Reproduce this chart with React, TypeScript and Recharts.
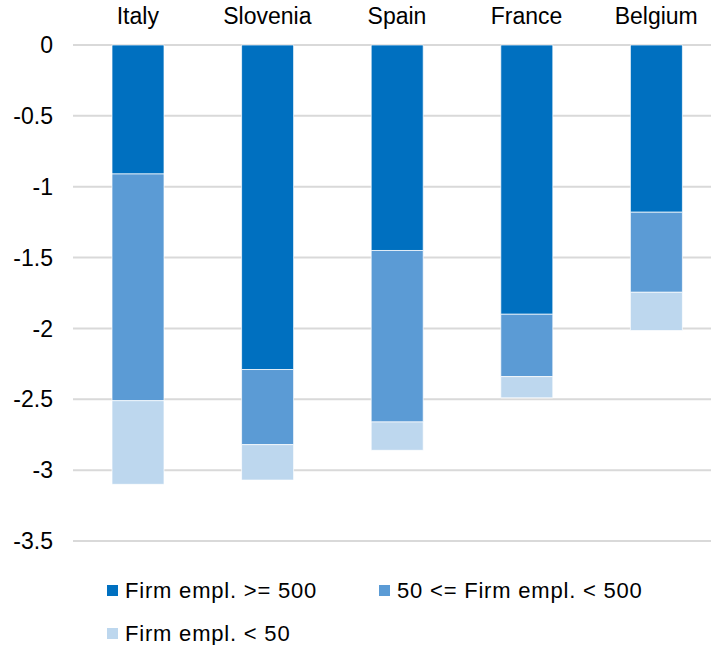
import React from "react";
import { BarChart, Bar, XAxis, YAxis, CartesianGrid, Legend } from "recharts";

const countries = ["Italy", "Slovenia", "Spain", "France", "Belgium"];
const large = [-0.91, -2.29, -1.45, -1.9, -1.18];
const medium = [-1.6, -0.53, -1.21, -0.44, -0.565];
const small = [-0.59, -0.25, -0.2, -0.15, -0.27];
const yTicks = [0, -0.5, -1, -1.5, -2, -2.5, -3, -3.5];

const series = [
  { key: "large", name: "Firm empl. >= 500", color: "#0070C0" },
  { key: "medium", name: "50 <= Firm empl. < 500", color: "#5B9BD5" },
  { key: "small", name: "Firm empl. < 50", color: "#BDD7EE" },
];

const rows = countries.map((country, i) => ({
  country,
  large: large[i],
  medium: medium[i],
  small: small[i],
}));

const FONT = "'Liberation Sans', Arial, sans-serif";

function LegendBox() {
  return (
    <div
      style={{
        width: 711,
        height: 104,
        boxSizing: "border-box",
        paddingTop: 28,
        paddingLeft: 107,
        display: "flex",
        flexWrap: "wrap",
        fontFamily: FONT,
        fontSize: 22,
        letterSpacing: 0.8,
        color: "#000",
      }}
    >
      {series.map((s) => (
        <div
          key={s.key}
          style={{ width: 272, height: 43, display: "flex", alignItems: "center" }}
        >
          <span
            style={{
              display: "inline-block",
              width: 11,
              height: 11,
              background: s.color,
              marginRight: 7,
            }}
          />
          <span>{s.name}</span>
        </div>
      ))}
    </div>
  );
}

export default function App() {
  return (
    <div
      style={{
        position: "absolute",
        left: 0,
        top: 0,
        width: 711,
        height: 645,
        overflow: "hidden",
        background: "#fff",
      }}
    >
      <BarChart
        width={721}
        height={645}
        data={rows}
        stackOffset="sign"
        margin={{ top: 0, right: 0, bottom: 0, left: 0 }}
      >
        <CartesianGrid vertical={false} stroke="#d9d9d9" strokeWidth={2} />
        <XAxis
          dataKey="country"
          orientation="top"
          height={45}
          axisLine={false}
          tickLine={false}
          tickSize={0}
          tickMargin={21}
          tick={{ fill: "#000", fontSize: 23, fontFamily: FONT }}
        />
        <YAxis
          type="number"
          domain={[-3.5, 0]}
          ticks={yTicks}
          width={73}
          axisLine={false}
          tickLine={false}
          tickSize={0}
          tickMargin={20}
          interval={0}
          tick={{ fill: "#000", fontSize: 23, fontFamily: FONT }}
        />
        <Legend
          verticalAlign="bottom"
          wrapperStyle={{ left: 0 }}
          content={() => <LegendBox />}
        />
        {series.map((s) => (
          <Bar
            key={s.key}
            dataKey={s.key}
            name={s.name}
            stackId="a"
            fill={s.color}
            stroke="#fff"
            strokeWidth={1}
            strokeOpacity={0.7}
            barSize={52}
            isAnimationActive={false}
          />
        ))}
      </BarChart>
    </div>
  );
}
